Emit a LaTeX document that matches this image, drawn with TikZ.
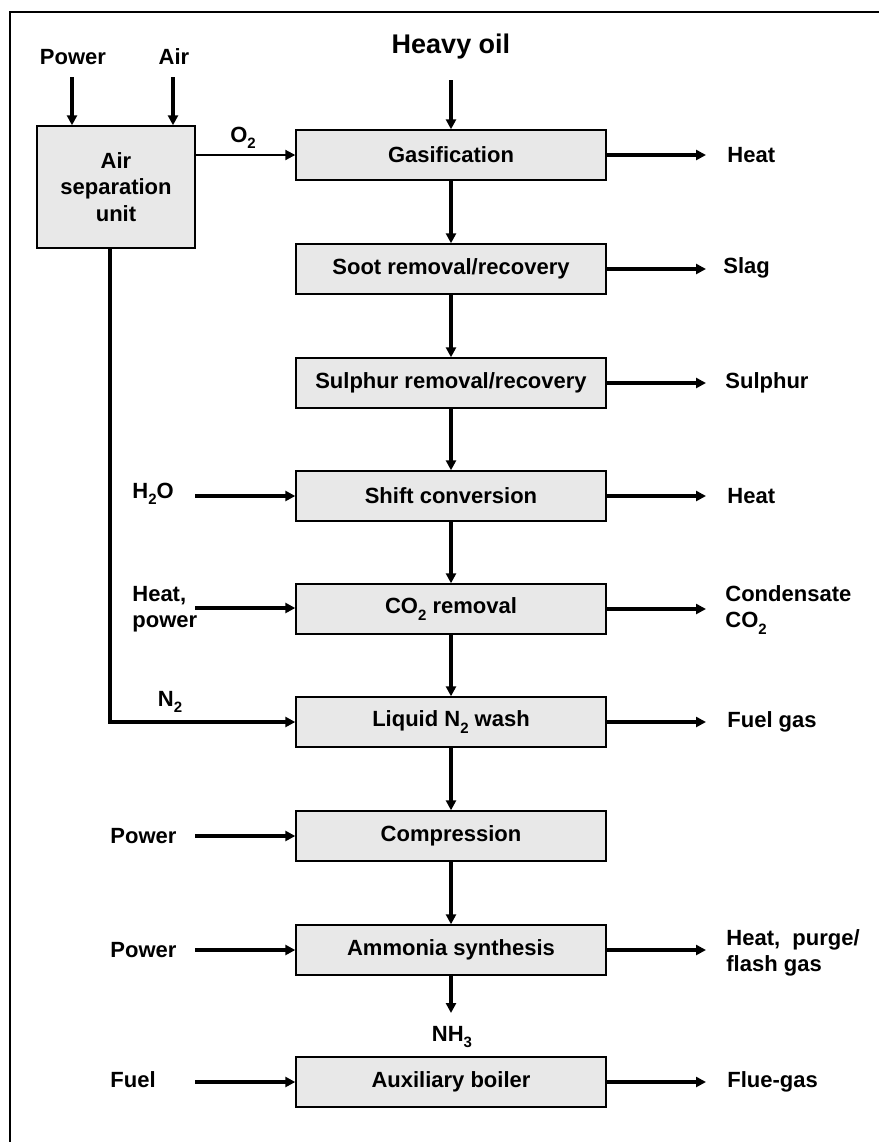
\documentclass[tikz,border=0pt]{standalone}
\usepackage{fontspec}
\setmainfont{Liberation Sans}
\usetikzlibrary{arrows.meta}
\definecolor{boxfill}{RGB}{232,232,232}
\newcommand{\chemsub}[1]{\raisebox{-0.55ex}{\fontsize{7.5}{8}\selectfont\bfseries #1}}
\begin{document}
\begin{tikzpicture}[x=0.5pt,y=-0.5pt,
  font=\fontsize{11}{13.2}\selectfont\bfseries,
  proc/.style={draw=black, line width=0.7pt, fill=boxfill, minimum width=155pt, minimum height=25pt, inner sep=0pt},
  flow/.style={line width=1.6pt, -{Triangle[length=5pt,width=5pt]}},
  thinflow/.style={line width=1pt, -{Triangle[length=5pt,width=5pt]}},
  lbl/.style={inner sep=0pt, anchor=west, align=left},
  toplbl/.style={inner sep=0pt}]
\useasboundingbox (0,0) rectangle (879,1142);
\draw[line width=1.1pt] (10,1142) -- (10,12) -- (879,12);

% main process boxes
\node[proc] (gas)   at (451,155)  {Gasification};
\node[proc] (soot)  at (451,269)  {Soot removal/recovery};
\node[proc] (sul)   at (451,383)  {Sulphur removal/recovery};
\node[proc] (shift) at (451,496)  {Shift conversion};
\node[proc] (co2)   at (451,609)  {CO\chemsub{2} removal};
\node[proc] (ln2)   at (451,722)  {Liquid N\chemsub{2} wash};
\node[proc] (comp)  at (451,836)  {Compression};
\node[proc] (amm)   at (451,950)  {Ammonia synthesis};
\node[proc] (boil)  at (451,1082) {Auxiliary boiler};
\node[proc, minimum width=79pt, minimum height=61pt, align=center] (asu) at (116,187) {Air\\separation\\unit};

% top inputs
\node[toplbl] (power0) at (73,57) {Power};
\node[toplbl] (air) at (174,57) {Air};
\node[toplbl, font=\fontsize{13.5}{16}\selectfont\bfseries] (oil) at (451,47) {Heavy oil};
\coordinate (powerstart) at (72,77);
\coordinate (airstart) at (173,77);
\coordinate (oilstart) at (451,80);
\draw[flow] (powerstart) -- (powerstart |- asu.north);
\draw[flow] (airstart) -- (airstart |- asu.north);
\draw[flow] (oilstart) -- (gas.north);

% O2
\node[toplbl] (o2) at (243,138) {O\chemsub{2}};
\draw[thinflow] (asu.east |- gas.west) -- (gas.west);

% N2
\node[toplbl] (n2) at (170,702) {N\chemsub{2}};
\coordinate (n2start) at (110,248);
\draw[flow] (n2start) |- (ln2.west);

% main chain
\draw[flow] (gas.south) -- (soot.north);
\draw[flow] (soot.south) -- (sul.north);
\draw[flow] (sul.south) -- (shift.north);
\draw[flow] (shift.south) -- (co2.north);
\draw[flow] (co2.south) -- (ln2.north);
\draw[flow] (ln2.south) -- (comp.north);
\draw[flow] (comp.south) -- (amm.north);
\node[toplbl] (nh3) at (452,1037) {NH\chemsub{3}};
\coordinate (nh3end) at (451,1013);
\draw[flow] (amm.south) -- (nh3end);

% left inputs
\node[lbl] (h2o) at (132,494) {H\chemsub{2}O};
\node[lbl] (hp) at (132,609) {Heat,\\power};
\node[lbl] (pw1) at (110,836) {Power};
\node[lbl] (pw2) at (110,950) {Power};
\node[lbl] (fuel) at (110,1080) {Fuel};
\coordinate (in1) at (195,496);
\coordinate (in2) at (195,608);
\coordinate (in3) at (195,836);
\coordinate (in4) at (195,950);
\coordinate (in5) at (195,1082);
\draw[flow] (in1) -- (shift.west);
\draw[flow] (in2) -- (in2 -| co2.west);
\draw[flow] (in3) -- (comp.west);
\draw[flow] (in4) -- (amm.west);
\draw[flow] (in5) -- (boil.west);

% right outputs
\node[lbl] (r1) at (727,155) {Heat};
\node[lbl] (r2) at (723,268) {Slag};
\node[lbl] (r3) at (725,383) {Sulphur};
\node[lbl] (r4) at (727,496) {Heat};
\node[lbl] (r5) at (725,610) {Condensate\\CO\chemsub{2}};
\node[lbl] (r6) at (727,722) {Fuel gas};
\node[lbl] (r7) at (726,953) {Heat,~ purge/\\flash gas};
\node[lbl] (r8) at (727,1082) {Flue-gas};
\coordinate (out1) at (706,155);
\coordinate (out2) at (706,269);
\coordinate (out3) at (706,383);
\coordinate (out4) at (706,496);
\coordinate (out5) at (706,609);
\coordinate (out6) at (706,722);
\coordinate (out7) at (706,950);
\coordinate (out8) at (706,1082);
\draw[flow] (gas.east) -- (out1);
\draw[flow] (soot.east) -- (out2);
\draw[flow] (sul.east) -- (out3);
\draw[flow] (shift.east) -- (out4);
\draw[flow] (co2.east) -- (out5);
\draw[flow] (ln2.east) -- (out6);
\draw[flow] (amm.east) -- (out7);
\draw[flow] (boil.east) -- (out8);
\end{tikzpicture}
\end{document}
